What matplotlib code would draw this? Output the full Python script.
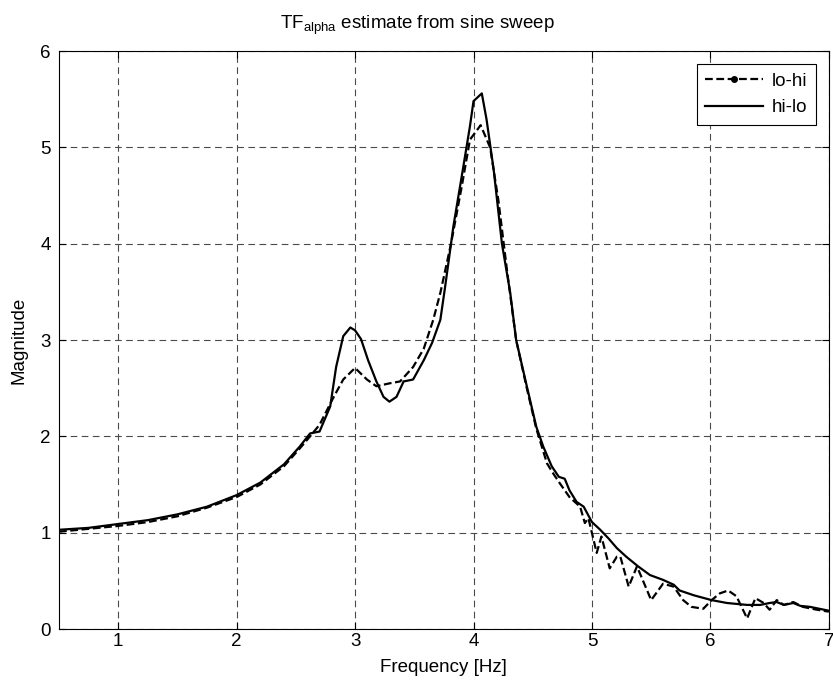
import numpy as np
import matplotlib
matplotlib.use('Agg')
import matplotlib.pyplot as plt
from matplotlib.lines import Line2D

plt.rcParams['font.family'] = ['Liberation Sans', 'DejaVu Sans']

# lo-hi sweep (dashed)
lohi_f = [0.5, 0.75, 1.0, 1.25, 1.5, 1.75, 2.0, 2.2, 2.4, 2.53, 2.62, 2.70, 2.82, 2.90,
          3.00, 3.10, 3.18, 3.29, 3.38, 3.49, 3.58, 3.66, 3.72, 3.81, 3.90, 3.97, 4.06,
          4.14, 4.21, 4.28, 4.36, 4.45, 4.53, 4.62, 4.67, 4.73, 4.81, 4.90, 4.94, 4.97,
          5.04, 5.08, 5.15, 5.21, 5.24, 5.31, 5.38, 5.50, 5.60, 5.69, 5.77, 5.84, 5.94,
          6.01, 6.08, 6.15, 6.22, 6.31, 6.38, 6.45, 6.50, 6.56, 6.62, 6.70, 6.78, 6.90, 7.00]
lohi_mag = [1.01, 1.04, 1.07, 1.11, 1.17, 1.26, 1.37, 1.50, 1.69, 1.87, 2.00, 2.12, 2.41, 2.59,
            2.71, 2.59, 2.52, 2.55, 2.57, 2.72, 2.91, 3.21, 3.49, 4.00, 4.59, 5.08, 5.23,
            5.00, 4.45, 3.75, 3.00, 2.50, 2.08, 1.72, 1.62, 1.51, 1.37, 1.27, 1.10, 1.15,
            0.79, 0.96, 0.63, 0.75, 0.75, 0.44, 0.65, 0.30, 0.47, 0.44, 0.30, 0.23, 0.21,
            0.30, 0.37, 0.40, 0.34, 0.11, 0.32, 0.27, 0.20, 0.30, 0.25, 0.28, 0.23, 0.20, 0.18]

# hi-lo sweep (solid)
hilo_f = [0.5, 0.75, 1.0, 1.25, 1.5, 1.75, 2.0, 2.2, 2.4, 2.53, 2.62, 2.70, 2.79, 2.84,
          2.90, 2.96, 3.00, 3.05, 3.11, 3.18, 3.24, 3.29, 3.35, 3.41, 3.49, 3.58, 3.65,
          3.72, 3.76, 3.83, 3.91, 3.97, 4.00, 4.07, 4.11, 4.17, 4.24, 4.31, 4.36, 4.45,
          4.53, 4.59, 4.66, 4.72, 4.77, 4.81, 4.87, 4.93, 5.00, 5.07, 5.14, 5.21, 5.29,
          5.39, 5.49, 5.60, 5.69, 5.74, 5.86, 6.01, 6.14, 6.31, 6.42, 6.50, 6.56, 6.62,
          6.70, 6.76, 6.84, 6.92, 7.00]
hilo_mag = [1.03, 1.05, 1.09, 1.13, 1.19, 1.27, 1.39, 1.52, 1.71, 1.89, 2.03, 2.05, 2.31, 2.72,
            3.04, 3.13, 3.10, 3.01, 2.79, 2.57, 2.41, 2.36, 2.41, 2.57, 2.59, 2.79, 2.97,
            3.21, 3.55, 4.18, 4.77, 5.22, 5.48, 5.56, 5.29, 4.77, 4.00, 3.49, 3.00, 2.52,
            2.10, 1.89, 1.69, 1.58, 1.56, 1.44, 1.32, 1.27, 1.11, 1.03, 0.94, 0.84, 0.75,
            0.65, 0.56, 0.51, 0.46, 0.40, 0.35, 0.30, 0.27, 0.25, 0.25, 0.27, 0.28, 0.25,
            0.27, 0.24, 0.23, 0.21, 0.19]

x_ticks = [1, 2, 3, 4, 5, 6, 7]
y_ticks = [0, 1, 2, 3, 4, 5, 6]

fs = 13.5
fig = plt.figure(figsize=(8.33, 6.84), dpi=100)
ax = fig.add_axes([0.0708, 0.0804, 0.9242, 0.845])

dash = (3.5, 1.6)
ax.plot(lohi_f, lohi_mag, color='black', lw=1.6, linestyle=(0, dash))
ax.plot(hilo_f, hilo_mag, color='black', lw=1.6, linestyle='-')

ax.set_xlim(0.5, 7)
ax.set_ylim(0, 6)
ax.set_xticks(x_ticks)
ax.set_yticks(y_ticks)
ax.tick_params(direction='in', length=5, width=0.8, top=True, right=True, labelsize=fs)
ax.tick_params(axis='x', pad=3)
ax.tick_params(axis='y', pad=6)
ax.grid(True, color='#4a4a4a', linestyle=(0, (6, 4)), linewidth=0.8)
for s in ax.spines.values():
    s.set_linewidth(0.8)

ax.set_xlabel('Frequency [Hz]', fontsize=fs, labelpad=6)
ax.set_ylabel('Magnitude', fontsize=fs, labelpad=9)
ax.set_title(r'$\mathregular{TF_{alpha}}$ estimate from sine sweep', fontsize=fs,
             pad=16, x=0.465)

handles = [Line2D([], [], color='black', lw=1.6, linestyle=(0, dash), marker='.', markersize=8),
           Line2D([], [], color='black', lw=1.6, linestyle='-')]
leg = ax.legend(handles, ['lo-hi', 'hi-lo'], loc='upper right', fontsize=fs,
                handlelength=3.1, numpoints=1, fancybox=False, framealpha=1,
                borderaxespad=0.7, handletextpad=0.45, borderpad=0.45)
leg.get_frame().set_edgecolor('black')
leg.get_frame().set_linewidth(0.8)

fig.savefig('out.png', dpi=100)
